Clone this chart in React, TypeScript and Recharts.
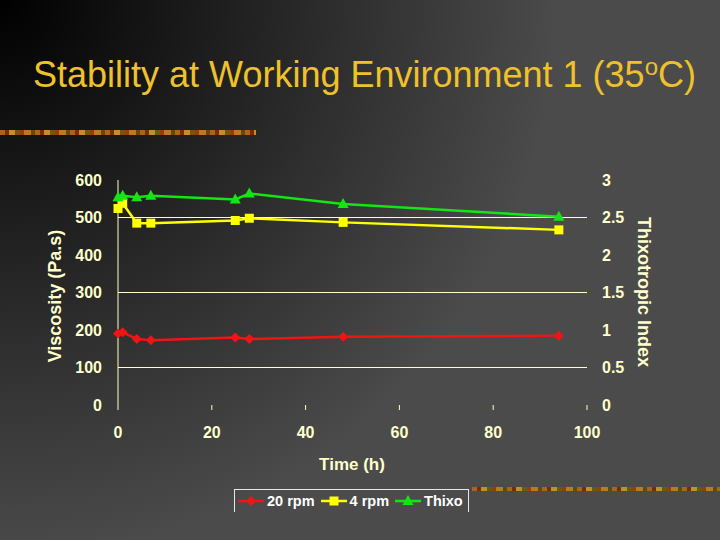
import React from "react";
import { LineChart, Line, XAxis, YAxis, ReferenceLine, Legend } from "recharts";

// hours since start
const hours = [0, 1, 4, 7, 25, 28, 48, 94];
const rpm20 = [191, 194, 176, 173, 180, 176, 182, 185];
const rpm4 = [524, 538, 485, 485, 492, 498, 487, 467];
const thixo = [2.77, 2.79, 2.77, 2.79, 2.74, 2.82, 2.68, 2.51];

const timeTicks = [0, 20, 40, 60, 80, 100];
const viscTicks = [0, 100, 200, 300, 400, 500, 600];
const thixoTicks = [0, 0.5, 1, 1.5, 2, 2.5, 3];
const gridValues = [100, 300, 500];

const data = hours.map((h, i) => ({
  h,
  rpm20: rpm20[i],
  rpm4: rpm4[i],
  thixo: thixo[i],
}));

const RED = "#f01414";
const YELLOW = "#ffff00";
const GREEN = "#14e614";
const CREAM = "#ffffcc";
const FONT = "'Liberation Sans', Arial, sans-serif";

const tickStyle = { fill: CREAM, fontSize: 16, fontWeight: "bold", fontFamily: FONT };

const Diamond = (props: any) => {
  const { cx, cy, index } = props;
  if (cx == null || cy == null) return null;
  return (
    <polygon
      key={"d" + index}
      points={`${cx},${cy - 5} ${cx + 5},${cy} ${cx},${cy + 5} ${cx - 5},${cy}`}
      fill={RED}
    />
  );
};

const Square = (props: any) => {
  const { cx, cy, index } = props;
  if (cx == null || cy == null) return null;
  return <rect key={"s" + index} x={cx - 4.5} y={cy - 4.5} width={9} height={9} fill={YELLOW} />;
};

const Triangle = (props: any) => {
  const { cx, cy, index } = props;
  if (cx == null || cy == null) return null;
  return (
    <polygon
      key={"t" + index}
      points={`${cx},${cy - 6} ${cx + 5.5},${cy + 4} ${cx - 5.5},${cy + 4}`}
      fill={GREEN}
    />
  );
};

const legendItems = [
  { name: "20 rpm", color: RED, Mark: Diamond },
  { name: "4 rpm", color: YELLOW, Mark: Square },
  { name: "Thixo", color: GREEN, Mark: Triangle },
];

const LegendBox = () => (
  <div
    style={{
      display: "flex",
      alignItems: "center",
      height: 23,
      border: "1px solid #e8e8e8",
      borderBottom: "none",
      padding: "0 3px",
      fontFamily: FONT,
      fontWeight: "bold",
      fontSize: 14.5,
      color: "#ffffff",
      boxSizing: "border-box",
      whiteSpace: "nowrap",
    }}
  >
    {legendItems.map((it) => (
      <span key={it.name} style={{ display: "flex", alignItems: "center", marginRight: 6, flexShrink: 0 }}>
        <svg width={26} height={12} style={{ marginRight: 3, flexShrink: 0 }}>
          <line x1={0} y1={6} x2={26} y2={6} stroke={it.color} strokeWidth={2.5} />
          <it.Mark cx={13} cy={6} index={0} />
        </svg>
        {it.name}
      </span>
    ))}
  </div>
);

const barTexture =
  "repeating-linear-gradient(90deg, #a8661c 0 5px, #7a2a10 5px 9px, #c0902a 9px 15px, #6a5a18 15px 20px, #9b3a12 20px 24px, #b87a22 24px 31px, #5e4a16 31px 35px)";

export default function App() {
  return (
    <div
      style={{
        position: "absolute",
        left: 0,
        top: 0,
        width: 720,
        height: 540,
        overflow: "hidden",
        background: "radial-gradient(circle at 0 0, #000 0px, #111 120px, #4b4b4b 560px)",
      }}
    >
      <div
        style={{
          position: "absolute",
          left: 33,
          top: 57,
          fontFamily: FONT,
          fontSize: 36,
          lineHeight: "36px",
          color: "#efc12a",
          whiteSpace: "nowrap",
        }}
      >
        Stability at Working Environment 1 (35
        <span style={{ fontSize: 24, verticalAlign: 12, lineHeight: 0 }}>o</span>C)
      </div>
      <div style={{ position: "absolute", left: 0, top: 130, width: 256, height: 5, background: barTexture }} />
      <div style={{ position: "absolute", left: 472, top: 487, width: 248, height: 4, background: barTexture }} />

      <div
        style={{
          position: "absolute",
          left: 55,
          top: 296,
          transform: "translate(-50%, -50%) rotate(-90deg)",
          fontFamily: FONT,
          fontWeight: "bold",
          fontSize: 18,
          color: CREAM,
          whiteSpace: "nowrap",
        }}
      >
        Viscosity (Pa.s)
      </div>
      <div
        style={{
          position: "absolute",
          left: 643,
          top: 292,
          transform: "translate(-50%, -50%) rotate(90deg)",
          fontFamily: FONT,
          fontWeight: "bold",
          fontSize: 18,
          color: CREAM,
          whiteSpace: "nowrap",
        }}
      >
        Thixotropic Index
      </div>
      <div
        style={{
          position: "absolute",
          left: 352,
          top: 465,
          transform: "translate(-50%, -50%)",
          fontFamily: FONT,
          fontWeight: "bold",
          fontSize: 17,
          color: CREAM,
          whiteSpace: "nowrap",
        }}
      >
        Time (h)
      </div>

      <div style={{ position: "absolute", left: 0, top: 0 }}>
        <LineChart width={720} height={540} data={data} margin={{ top: 180, right: 73, bottom: 105, left: 58 }}>
          <XAxis
            type="number"
            dataKey="h"
            domain={[0, 100]}
            ticks={timeTicks}
            axisLine={false}
            tickLine={{ stroke: CREAM }}
            tickSize={5}
            tickMargin={17}
            height={30}
            tick={tickStyle}
          />
          <YAxis
            yAxisId="left"
            domain={[0, 600]}
            ticks={viscTicks}
            width={60}
            axisLine={{ stroke: CREAM }}
            tickLine={false}
            tickMargin={10}
            tick={tickStyle}
          />
          <YAxis
            yAxisId="right"
            orientation="right"
            domain={[0, 3]}
            ticks={thixoTicks}
            width={60}
            axisLine={false}
            tickLine={false}
            tickMargin={9}
            tick={tickStyle}
          />
          {gridValues.map((v) => (
            <ReferenceLine key={v} yAxisId="left" y={v} stroke={CREAM} strokeWidth={1} />
          ))}
          <Line
            yAxisId="left"
            dataKey="rpm20"
            name="20 rpm"
            stroke={RED}
            strokeWidth={2.5}
            dot={Diamond}
            isAnimationActive={false}
          />
          <Line
            yAxisId="left"
            dataKey="rpm4"
            name="4 rpm"
            stroke={YELLOW}
            strokeWidth={2.5}
            dot={Square}
            isAnimationActive={false}
          />
          <Line
            yAxisId="right"
            dataKey="thixo"
            name="Thixo"
            stroke={GREEN}
            strokeWidth={2.5}
            dot={Triangle}
            isAnimationActive={false}
          />
          <Legend
            layout="horizontal"
            verticalAlign="middle"
            align="center"
            content={() => <LegendBox />}
            wrapperStyle={{ left: 234, top: 489, width: 235, height: 23 }}
          />
        </LineChart>
      </div>
    </div>
  );
}
